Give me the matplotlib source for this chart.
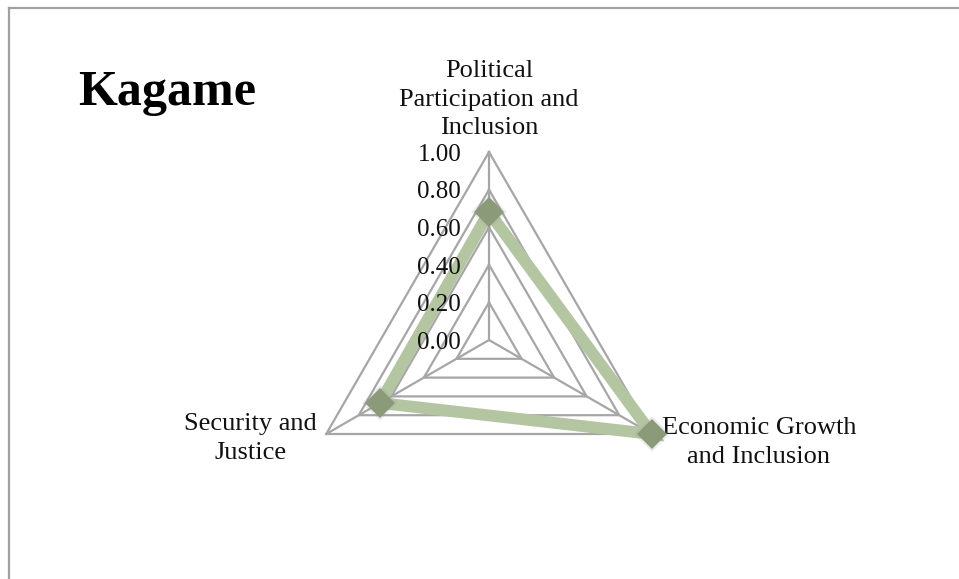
import numpy as np
import matplotlib
matplotlib.use("Agg")
import matplotlib.pyplot as plt
from matplotlib.lines import Line2D

categories = ["Political\nParticipation and\nInclusion",
              "Economic Growth\nand Inclusion",
              "Security and\nJustice"]
values = [0.68, 1.00, 0.67]
ring_levels = [0.2, 0.4, 0.6, 0.8, 1.0]
tick_values = [0.0, 0.2, 0.4, 0.6, 0.8, 1.0]
tick_labels = ["0.00", "0.20", "0.40", "0.60", "0.80", "1.00"]
title = "Kagame"

FONT = "Liberation Serif"
W, H = 959, 579
fig = plt.figure(figsize=(W / 100, H / 100), dpi=100)
fig.patch.set_facecolor("white")

cx, cy, R = 489, 340, 188
ax = fig.add_axes([(cx - R) / W, (H - cy - R) / H, 2 * R / W, 2 * R / H],
                  projection="polar")
ax.set_theta_offset(np.pi / 2)
ax.set_theta_direction(-1)
ax.set_ylim(0, 1)
ax.grid(False)
ax.set_xticks([])
ax.set_yticks([])
ax.spines["polar"].set_visible(False)
ax.patch.set_alpha(0)

n = len(categories)
angles = np.linspace(0, 2 * np.pi, n, endpoint=False)
closed = np.concatenate([angles, angles[:1]])

grid_color = "#a6a6a6"
for lv in ring_levels:
    ax.plot(closed, [lv] * (n + 1), color=grid_color, lw=1.6, zorder=1,
            clip_on=False)
for a in angles:
    ax.plot([a, a], [0, 1], color=grid_color, lw=1.6, zorder=1,
            clip_on=False)

vals = values + values[:1]
ax.plot(closed, vals, color="#b4c5a2", lw=8.5, solid_joinstyle="miter",
        zorder=3, clip_on=False)
ax.plot(angles, values, linestyle="none", marker="D", markersize=18,
        color="#999999", alpha=0.18, markeredgewidth=0, zorder=4,
        clip_on=False)
ax.plot(angles, values, linestyle="none", marker="D", markersize=15,
        color="#8b9b7a", markeredgewidth=0, zorder=5, clip_on=False)

for v, lab in zip(tick_values, tick_labels):
    ax.annotate(lab, xy=(0, v), xytext=(-20, -2), textcoords="offset points",
                ha="right", va="center", fontsize=18, family=FONT,
                color="#111111", zorder=6)

offsets = [((0, 9), "center", "bottom"),
           ((7, -6), "left", "center"),
           ((-7, -3), "right", "center")]
for a, lab, (off, ha, va) in zip(angles, categories, offsets):
    ax.annotate(lab, xy=(a, 1.0), xytext=off, textcoords="offset points",
                ha=ha, va=va, multialignment="center", fontsize=19,
                family=FONT, color="#111111", linespacing=1.4,
                annotation_clip=False)

fig.text(78 / W, 1 - 105 / H, title, fontsize=36, fontweight="bold",
         family=FONT, ha="left", va="baseline", color="#000000")

bx, by = 9 / W, 1 - 8 / H
fig.add_artist(Line2D([bx, bx], [0, by], transform=fig.transFigure,
                      color="#a0a0a0", lw=1.6))
fig.add_artist(Line2D([bx, 1], [by, by], transform=fig.transFigure,
                      color="#a0a0a0", lw=1.6))

fig.savefig("out.png", dpi=100)
